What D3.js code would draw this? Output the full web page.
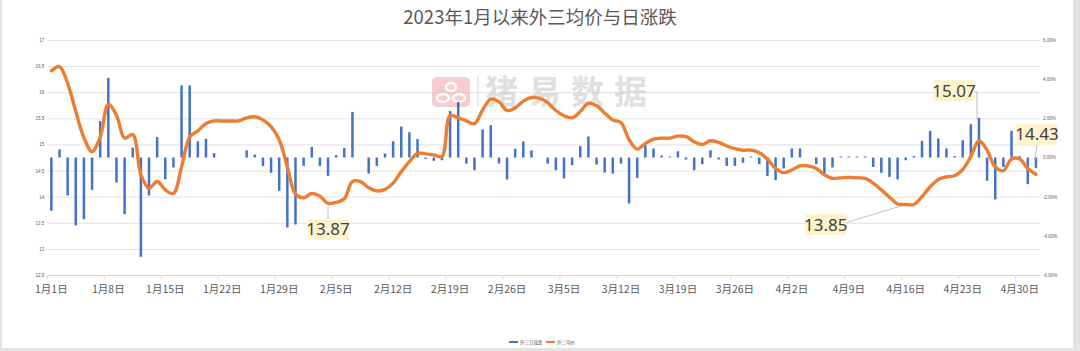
<!DOCTYPE html>
<html>
<head>
<meta charset="utf-8">
<script src="https://cdn.jsdelivr.net/npm/d3@7"></script>
<style>
  html, body { margin: 0; padding: 0; background: #e3e3e3; }
  svg { display: block; font-family: "Noto Sans CJK SC", "Noto Sans", sans-serif; }
</style>
</head>
<body>
<div class="chart"></div>
<script>
const width = 1080;
const height = 351;

// daily categories, Jan 1 .. May 2 2023
const days = d3.timeDay.range(new Date(2023, 0, 1), new Date(2023, 4, 3));
const dayLabel = d => (d.getMonth() + 1) + "月" + d.getDate() + "日";

const tickLabels = ["1月1日", "1月8日", "1月15日", "1月22日", "1月29日", "2月5日", "2月12日",
  "2月19日", "2月26日", "3月5日", "3月12日", "3月19日", "3月26日", "4月2日", "4月9日",
  "4月16日", "4月23日", "4月30日"];

// 外三均价 (元/kg)
const avgPrice = [
  16.41, 16.49, 16.17, 15.63, 15.13, 14.86, 15.14, 15.77, 15.56, 15.12,
  15.19, 14.42, 14.16, 14.29, 14.13, 14.06, 14.57, 15.14, 15.26, 15.40,
  15.45, 15.45, 15.45, 15.45, 15.51, 15.53, 15.47, 15.34, 15.09, 14.57,
  14.05, 13.98, 14.06, 14.01, 13.87, 13.89, 13.96, 14.29, 14.29, 14.17,
  14.11, 14.14, 14.26, 14.48, 14.67, 14.83, 14.82, 14.80, 14.77, 15.55,
  15.51, 15.45, 15.40, 15.66, 15.87, 15.82, 15.65, 15.70, 15.83, 15.90,
  15.88, 15.80, 15.65, 15.55, 15.51, 15.63, 15.79, 15.74, 15.60, 15.47,
  15.42, 15.09, 14.91, 15.02, 15.10, 15.12, 15.12, 15.16, 15.15, 15.05,
  15.00, 15.07, 15.04, 14.97, 14.92, 14.89, 14.89, 14.84, 14.72, 14.54,
  14.46, 14.51, 14.59, 14.59, 14.54, 14.42, 14.35, 14.36, 14.37, 14.36,
  14.35, 14.26, 14.13, 13.99, 13.86, 13.85, 13.85, 14.00, 14.19, 14.33,
  14.38, 14.40, 14.52, 14.77, 15.07, 14.89, 14.57, 14.50, 14.72, 14.72,
  14.54, 14.43
];

// 日涨跌 (%), null = no quote that day
const dailyChange = [
  -2.72, 0.41, -1.94, -3.47, -3.15, -1.65, 1.86, 4.07, -1.28, -2.89,
  0.51, -5.07, -1.94, 1.04, -1.12, -0.51, 3.68, 3.68, 0.83, 0.95,
  0.22, null, null, null, 0.37, 0.15, -0.44, -0.78, -1.70, -3.57,
  -3.42, -0.43, 0.54, -0.43, -0.94, 0.12, 0.49, 2.33, null, -0.82,
  -0.43, 0.20, 0.83, 1.58, 1.29, 0.94, -0.07, -0.17, -0.14, 2.37,
  2.83, -0.31, -0.65, 1.43, 1.65, -0.31, -1.12, 0.44, 0.82, 0.37,
  null, -0.31, -0.65, -1.07, -0.39, 0.58, 1.07, -0.36, -0.77, -0.82,
  -0.31, -2.35, -1.04, 0.63, 0.46, 0.10, 0.05, 0.32, -0.10, -0.65,
  -0.34, 0.37, -0.10, -0.43, -0.43, -0.27, 0.05, -0.34, -0.95, -1.16,
  -0.56, 0.46, 0.46, null, -0.34, -0.82, -0.51, 0.05, 0.05, 0.05,
  0.05, -0.48, -0.78, -0.99, -1.12, -0.14, 0.07, 0.85, 1.36, 0.97,
  0.46, 0.07, 0.88, 1.70, 2.03, -1.19, -2.14, -0.48, 1.36, 0.07,
  -1.36, -0.53
];

const leftTicks = [12.5, 13, 13.5, 14, 14.5, 15, 15.5, 16, 16.5, 17];
const rightTicks = [-6, -4, -2, 0, 2, 4, 6];

// labelled points: index, label offset from the point
const callouts = [
  { i: 34, dx: 0, dy: 26, leader: "down" },
  { i: 105, dx: -80, dy: 20, leader: "side" },
  { i: 114, dx: -25, dy: -50, leader: "elbow" },
  { i: 121, dx: 1, dy: -40, leader: "up" }
];

const plot = { left: 47.3, right: 1040, top: 40, bottom: 275 };

const svg = d3.select(".chart")
  .append("svg")
  .attr("width", width)
  .attr("height", height);

svg.append("rect")
  .attr("x", 2).attr("y", 0)
  .attr("width", 1071).attr("height", 348)
  .attr("fill", "white");

const x = d3.scaleBand()
  .domain(days.map(dayLabel))
  .range([plot.left, plot.right])
  .padding(0);

const yL = d3.scaleLinear().domain([12.5, 17]).range([plot.bottom, plot.top]);
const yR = d3.scaleLinear().domain([-6, 6]).range([plot.bottom, plot.top]);

const cx = i => x(dayLabel(days[i])) + x.bandwidth() / 2;

// title
svg.append("text")
  .attr("x", 540).attr("y", 24)
  .attr("text-anchor", "middle")
  .attr("font-size", 18.5)
  .attr("fill", "#595959")
  .text("2023年1月以来外三均价与日涨跌");

// left axis + grid
const gLeft = svg.append("g")
  .attr("transform", `translate(${plot.left},0)`)
  .call(d3.axisLeft(yL)
    .tickValues(leftTicks)
    .tickSizeInner(-(plot.right - plot.left))
    .tickSizeOuter(0)
    .tickPadding(3)
    .tickFormat(d => d));
gLeft.select(".domain").remove();
gLeft.selectAll(".tick line").attr("stroke", "#d9d9d9").attr("stroke-width", 0.8);
gLeft.selectAll(".tick text").attr("font-size", 4.5).attr("fill", "#595959");

// right axis
const gRight = svg.append("g")
  .attr("transform", `translate(${plot.right},0)`)
  .call(d3.axisRight(yR)
    .tickValues(rightTicks)
    .tickSize(0)
    .tickPadding(3)
    .tickFormat(d => d.toFixed(2) + "%"));
gRight.select(".domain").remove();
gRight.selectAll(".tick text").attr("font-size", 4.5).attr("fill", "#595959");

// bottom axis (labels at category centres)
const gBottom = svg.append("g")
  .attr("transform", `translate(0,${plot.bottom})`)
  .call(d3.axisBottom(x)
    .tickValues(tickLabels)
    .tickSize(0)
    .tickPadding(11));
gBottom.select(".domain").attr("stroke", "#d9d9d9");
gBottom.selectAll(".tick text")
  .attr("font-size", 10.5)
  .attr("fill", "#595959")
  .attr("font-family", "'Noto Sans CJK SC', sans-serif");

// tick marks at category boundaries
svg.append("g")
  .selectAll("line")
  .data(tickLabels)
  .join("line")
  .attr("x1", d => x(d)).attr("x2", d => x(d))
  .attr("y1", plot.bottom).attr("y2", plot.bottom + 4)
  .attr("stroke", "#d9d9d9");

// watermark
const wm = svg.append("g").attr("opacity", 0.55);
wm.append("rect")
  .attr("x", 432).attr("y", 77).attr("width", 38).attr("height", 30).attr("rx", 5)
  .attr("fill", "#f2a3a3");
wm.append("ellipse").attr("cx", 451).attr("cy", 87).attr("rx", 5).attr("ry", 4)
  .attr("fill", "none").attr("stroke", "white").attr("stroke-width", 2.5);
wm.append("ellipse").attr("cx", 443).attr("cy", 98).attr("rx", 6).attr("ry", 4)
  .attr("fill", "none").attr("stroke", "white").attr("stroke-width", 2.5);
wm.append("ellipse").attr("cx", 459).attr("cy", 98).attr("rx", 6).attr("ry", 4)
  .attr("fill", "none").attr("stroke", "white").attr("stroke-width", 2.5);
wm.append("line")
  .attr("x1", 478).attr("x2", 478).attr("y1", 77).attr("y2", 107)
  .attr("stroke", "#cccccc").attr("stroke-width", 1.5);
wm.append("text")
  .attr("x", 485).attr("y", 104)
  .attr("font-size", 33)
  .attr("font-weight", 700)
  .attr("letter-spacing", 10)
  .attr("fill", "#c8c8c8")
  .text("猪易数据");

// bars
svg.append("g")
  .selectAll("rect")
  .data(dailyChange.map((v, i) => ({ v, i })).filter(d => d.v !== null))
  .join("rect")
  .attr("x", d => cx(d.i) - 1.25)
  .attr("width", 2.5)
  .attr("y", d => Math.min(yR(d.v), yR(0)))
  .attr("height", d => Math.max(Math.abs(yR(d.v) - yR(0)), 0.8))
  .attr("fill", "#4472C4");

// price line
const line = d3.line()
  .x((d, i) => cx(i))
  .y(d => yL(d))
  .curve(d3.curveCatmullRom.alpha(0.5));

svg.append("path")
  .datum(avgPrice)
  .attr("d", line)
  .attr("fill", "none")
  .attr("stroke", "#ED7D31")
  .attr("stroke-width", 3.4)
  .attr("stroke-linejoin", "round")
  .attr("stroke-linecap", "round");

// callouts
const gCall = svg.append("g");
callouts.forEach(c => {
  const px = cx(c.i);
  const py = yL(avgPrice[c.i]);
  const bx = px + c.dx;
  const by = py + c.dy;
  const bw = 41, bh = 21;
  let pts;
  if (c.leader === "down") pts = [[px, py + 3], [bx, by - bh / 2]];
  else if (c.leader === "side") pts = [[bx + bw / 2, by - 2], [px - 3, py + 1]];
  else if (c.leader === "elbow") pts = [[bx + bw / 2, by + 1], [px - 2, by + 1], [px - 2, py - 21]];
  else pts = [[bx, by + bh / 2], [px - 1, py - 14]];
  gCall.append("path")
    .attr("d", d3.line()(pts))
    .attr("fill", "none")
    .attr("stroke", "#a6a6a6")
    .attr("stroke-width", 0.7);
  gCall.append("rect")
    .attr("x", bx - bw / 2).attr("y", by - bh / 2)
    .attr("width", bw).attr("height", bh)
    .attr("fill", "#FFF2CC");
  gCall.append("text")
    .attr("x", bx).attr("y", by + 6)
    .attr("text-anchor", "middle")
    .attr("font-size", 17)
    .attr("font-family", "'Noto Sans', sans-serif")
    .attr("fill", "#404040")
    .text(avgPrice[c.i].toFixed(2));
});

// legend
const legend = svg.append("g").attr("transform", "translate(509,342)");
legend.append("line").attr("x1", 0).attr("x2", 9).attr("stroke", "#4472C4").attr("stroke-width", 2);
legend.append("text").attr("x", 11).attr("y", 1.6).attr("font-size", 4.5).attr("fill", "#595959").text("外三日涨跌");
legend.append("line").attr("x1", 37).attr("x2", 46).attr("stroke", "#ED7D31").attr("stroke-width", 2);
legend.append("text").attr("x", 48).attr("y", 1.6).attr("font-size", 4.5).attr("fill", "#595959").text("外三均价");
</script>
</body>
</html>
